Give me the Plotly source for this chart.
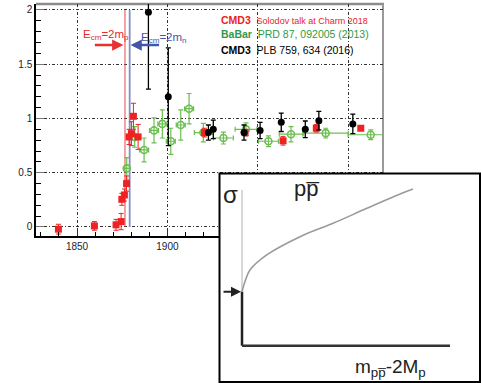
import plotly.graph_objects as go

# ---------------- data ----------------
# CMD3, Solodov talk at Charm 2018 (red squares)
cmd3_new_x = [1839.7, 1859.6, 1871.6, 1874.4, 1874.8, 1876.2, 1877.4, 1878.8,
              1880.1, 1881.2, 1883.8, 1920.5, 1943.0, 1964.0, 1982.4, 2007.0]
cmd3_new_y = [-0.02, 0.01, 0.02, 0.05, 0.255, 0.295, 0.40, 0.83,
              0.86, 1.02, 0.83, 0.87, 0.87, 0.795, 0.91, 0.91]
cmd3_new_err = [0.045, 0.04, 0.05, 0.075, 0.055, 0.055, 0.07, 0.07,
                0.11, 0.12, 0.115, 0.04, 0.03, 0.04, 0.035, 0.01]

# BaBar, PRD 87, 092005 (2013) (green open circles)
babar_x = [1877.5, 1881.9, 1887.1, 1892.6, 1897.2, 1901.9, 1907.4, 1912.0,
           1919.9, 1931.0, 1943.5, 1955.9, 1968.4, 1987.6, 2012.5]
babar_y = [0.54, 0.83, 0.71, 0.89, 0.95, 0.79, 0.94, 1.09,
           0.87, 0.82, 0.90, 0.79, 0.855, 0.865, 0.85]
babar_yerr = [0.10, 0.095, 0.11, 0.115, 0.13, 0.12, 0.14, 0.14,
              0.085, 0.055, 0.06, 0.05, 0.07, 0.045, 0.045]
babar_xerr = [1.5, 1.5, 2.5, 2.5, 2.5, 2.5, 2.5, 2.5,
              5.0, 5.5, 6.0, 5.5, 6.5, 12.5, 12.5]

# CMD3, PLB 759, 634 (2016) (black filled circles)
cmd3_old_x = [1889.5, 1900.5, 1922.7, 1925.4, 1942.4, 1951.3, 1963.0, 1976.3, 1983.8, 2002.6]
cmd3_old_y = [1.98, 1.20, 0.87, 0.90, 0.87, 0.89, 0.965, 0.90, 0.98, 0.95]
cmd3_old_err = [0.71, 0.45, 0.07, 0.085, 0.07, 0.075, 0.085, 0.077, 0.085, 0.09]

# thresholds (MeV): 2 m_p and 2 m_n
threshold_p = 1876.54
threshold_n = 1879.13

# inset sketch: sigma vs (m_ppbar - 2M_p), arbitrary units
inset_x = [0, 0.14, 0.38, 1.19, 2.79, 4.38, 6.0, 7.6, 8.22]
inset_y = [3.47, 4.11, 4.86, 5.83, 7.0, 7.86, 8.82, 9.74, 10.06]
inset_axis_len = 10

# ---------------- styling ----------------
W, H = 481, 383
RED = "#ee2222"
GREEN = "#6cbf50"
GREEN_TXT = "#2f9a48"
BLUE = "#4456aa"
FONT = "Liberation Sans, Arial, sans-serif"


def pxx(p):
    return p / W


def pxy(p):
    return 1 - p / H


fig = go.Figure()

# threshold lines
fig.add_trace(go.Scatter(x=[threshold_p, threshold_p], y=[0, 2], mode="lines",
                         line=dict(color="#ee4444", width=1), hoverinfo="skip"))
fig.add_trace(go.Scatter(x=[threshold_n, threshold_n], y=[0, 2], mode="lines",
                         line=dict(color="#8090c8", width=1.8), hoverinfo="skip"))

fig.add_trace(go.Scatter(
    x=babar_x, y=babar_y, mode="markers",
    marker=dict(symbol="circle-open", size=7, color=GREEN, line=dict(width=1.6, color=GREEN)),
    error_y=dict(type="data", array=babar_yerr, color=GREEN, thickness=1.2, width=2.5),
    error_x=dict(type="data", array=babar_xerr, color=GREEN, thickness=1.2, width=2.5),
))
fig.add_trace(go.Scatter(
    x=cmd3_new_x, y=cmd3_new_y, mode="markers",
    marker=dict(symbol="square", size=7, color=RED),
    error_y=dict(type="data", array=cmd3_new_err, color=RED, thickness=1, width=2.5),
))
fig.add_trace(go.Scatter(
    x=cmd3_old_x, y=cmd3_old_y, mode="markers",
    marker=dict(symbol="circle", size=7, color="black"),
    error_y=dict(type="data", array=cmd3_old_err, color="black", thickness=1.3, width=2.5),
))

# inset sketch traces
fig.add_trace(go.Scatter(x=[0, 0], y=[inset_y[0], inset_axis_len], mode="lines",
                         line=dict(color="#b0b0b0", width=1), xaxis="x2", yaxis="y2"))
fig.add_trace(go.Scatter(x=[0, 0], y=[0, inset_y[0]], mode="lines",
                         line=dict(color="#222222", width=2.5), xaxis="x2", yaxis="y2"))
fig.add_trace(go.Scatter(x=[0, inset_axis_len], y=[0, 0], mode="lines",
                         line=dict(color="#333333", width=2.5), xaxis="x2", yaxis="y2"))
fig.add_trace(go.Scatter(x=inset_x, y=inset_y, mode="lines", line_shape="spline",
                         line=dict(color="#9a9a9a", width=1.6), xaxis="x2", yaxis="y2"))

grid = dict(showgrid=True, gridcolor="#333333", gridwidth=1, griddash="3px,2px,1px,2px")

fig.update_layout(
    width=W, height=H, margin=dict(l=0, r=0, t=0, b=0),
    paper_bgcolor="white", plot_bgcolor="white", showlegend=False,
    font=dict(family=FONT),
    xaxis=dict(domain=[pxx(36), pxx(383)], range=[1827.3, 2019.3],
               tick0=1850, dtick=50, ticks="inside", ticklen=6, tickcolor="#333",
               showline=True, linecolor="black", linewidth=1.5, zeroline=False,
               tickfont=dict(size=10, color="#223"),
               minor=dict(tick0=1830, dtick=10, ticks="inside", ticklen=4, tickcolor="black",
                          showgrid=False),
               **grid),
    yaxis=dict(domain=[pxy(236), pxy(4)], range=[-0.083, 2.055],
               tick0=0, dtick=0.5, ticks="inside", ticklen=8, tickcolor="#777",
               showline=True, linecolor="black", linewidth=1.5, zeroline=False,
               tickfont=dict(size=10, color="#223"),
               minor=dict(dtick=0.1, ticks="inside", ticklen=5, tickcolor="black",
                          showgrid=False),
               **grid),
    xaxis2=dict(domain=[pxx(219), 1], range=[-1.106, 11.49], visible=False, anchor="y2"),
    yaxis2=dict(domain=[0, pxy(173)], range=[-2.396, 11.09], visible=False, anchor="x2"),
)

fig.update_layout(shapes=[
    # frame top / right (gray)
    dict(type="line", xref="paper", yref="paper", x0=pxx(36), x1=pxx(384), y0=pxy(4), y1=pxy(4),
         line=dict(color="#8c8c8c", width=2.5), layer="below"),
    dict(type="line", xref="paper", yref="paper", x0=pxx(383), x1=pxx(383), y0=pxy(4), y1=pxy(236),
         line=dict(color="#9a9a9a", width=2), layer="below"),
    # white inset background (drawn in the inset subplot, above the main plot)
    dict(type="rect", xref="x2", yref="y2", x0=-5, x1=15, y0=-5, y1=15,
         fillcolor="white", line=dict(width=0), layer="between"),
    # inset border
    dict(type="rect", xref="paper", yref="paper", x0=pxx(219.5), x1=pxx(480), y0=pxy(382), y1=pxy(173.5),
         line=dict(color="black", width=2), fillcolor="rgba(0,0,0,0)", layer="above"),
])

ann = []
# legend text
ann.append(dict(xref="paper", yref="paper", x=pxx(219), y=pxy(20), xanchor="left", yanchor="middle",
                showarrow=False, font=dict(size=10.5, color=RED),
                text="<b>CMD3</b>&nbsp; <span style='font-size:9px'>Solodov talk at Charm 2018</span>"))
ann.append(dict(xref="paper", yref="paper", x=pxx(219), y=pxy(34), xanchor="left", yanchor="middle",
                showarrow=False, font=dict(size=10.5, color=GREEN_TXT),
                text="<b>BaBar</b>&nbsp; PRD 87, 092005 (2013)"))
ann.append(dict(xref="paper", yref="paper", x=pxx(219), y=pxy(49.5), xanchor="left", yanchor="middle",
                showarrow=False, font=dict(size=10.5, color="black"),
                text="<b>CMD3</b>&nbsp; PLB 759, 634 (2016)"))
# threshold labels and arrows
ann.append(dict(xref="x", yref="y", x=threshold_p - 0.9, y=1.677, ax=-30, ay=0, text="",
                showarrow=True, arrowhead=2, arrowsize=0.9, arrowwidth=2.5, arrowcolor="#e83030"))
ann.append(dict(xref="x", yref="y", x=threshold_n + 0.5, y=1.677, ax=30, ay=0, text="",
                showarrow=True, arrowhead=2, arrowsize=0.9, arrowwidth=2.5, arrowcolor=BLUE))
ann.append(dict(xref="x", yref="y", x=1852.0, y=1.77, xanchor="left", yanchor="middle",
                showarrow=False, font=dict(size=11.5, color="#e82828"),
                text="E<sub>cm</sub>=2m<sub>p</sub>"))
ann.append(dict(xref="x", yref="y", x=1884.3, y=1.74, xanchor="left", yanchor="middle",
                showarrow=False, font=dict(size=11.5, color=BLUE),
                text="E<sub>cm</sub>=2m<sub>n</sub>"))
# inset texts and arrow
ann.append(dict(xref="x2", yref="y2", x=0, y=inset_y[0], ax=-20, ay=0, text="", standoff=1,
                showarrow=True, arrowhead=2, arrowsize=1, arrowwidth=2, arrowcolor="#222"))
ann.append(dict(xref="paper", yref="paper", x=pxx(230), y=pxy(194), xanchor="center", yanchor="middle",
                showarrow=False, font=dict(size=24, color="#222"), text="σ"))
ann.append(dict(xref="paper", yref="paper", x=pxx(307), y=pxy(188), xanchor="center", yanchor="middle",
                showarrow=False, font=dict(size=22, color="#222"), text="pp\u0305"))
ann.append(dict(xref="paper", yref="paper", x=pxx(390), y=pxy(368), xanchor="center", yanchor="middle",
                showarrow=False, font=dict(size=19, color="#222"),
                text="m<sub>pp\u0305</sub>-2M<sub>p</sub>"))
fig.update_layout(annotations=ann)

fig.write_html("out.html", config={"displayModeBar": False},
               post_script="document.body.style.margin='0';document.body.style.padding='0';")
